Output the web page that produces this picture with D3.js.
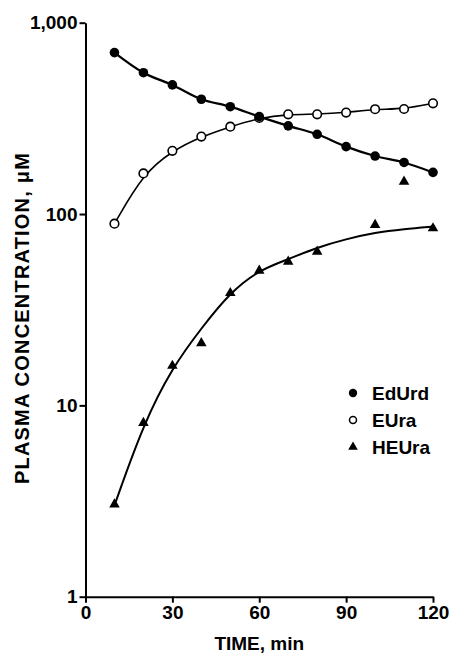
<!DOCTYPE html>
<html>
<head>
<meta charset="utf-8">
<script src="https://cdn.jsdelivr.net/npm/d3@7"></script>
<style>
  body { margin: 0; background: #fff; }
  text { font-family: "Liberation Sans", Arial, sans-serif; font-weight: bold; fill: #000; }
</style>
</head>
<body>
<svg id="chart" width="449" height="656"></svg>
<script>
// sampling times (min)
let times = [10, 20, 30, 40, 50, 60, 70, 80, 90, 100, 110, 120];
// EdUrd, filled circles
let edurd = [698, 548, 473, 398, 364, 323, 289, 261, 225, 201, 186, 165];
// EUra, open circles (60 min point sits under the EdUrd dot)
let eura = [89, 163, 214, 254, 286, 318, 332, 332, 339, 353, 354, 379];
// HEUra, triangles (no 90 min sample)
let heuraT = [10, 20, 30, 40, 50, 60, 70, 80, 100, 110, 120];
let heura = [3, 8, 15.9, 20.9, 38.2, 50, 55.7, 62.8, 86.7, 146, 83.3];
// fitted HEUra curve
let heuraFit = [3, 8, 15.8, 25.3, 39, 51, 58, 67, 74, 80, 83.5, 86];

let xTicks = [0, 30, 60, 90, 120];
let yTicks = [1, 10, 100, 1000];
let legendNames = ["EdUrd", "EUra", "HEUra"];

let svg = d3.select("#chart");

let x = d3.scaleLinear().domain([0, 120]).range([85.5, 433]);
let y = d3.scaleLog().domain([1, 1000]).range([596.7, 22.7]);

// axes
let xAxis = svg.append("g")
    .attr("transform", "translate(0," + y(1) + ")")
    .call(d3.axisBottom(x).tickValues(xTicks).tickSize(6).tickPadding(3).tickSizeOuter(0));
let yAxis = svg.append("g")
    .attr("transform", "translate(" + x(0) + ",0)")
    .call(d3.axisLeft(y).tickValues(yTicks).tickFormat(d3.format(",")).tickSize(6).tickPadding(2).tickSizeOuter(0));

[xAxis, yAxis].forEach(function(g) {
    g.select(".domain").attr("stroke", "#000").attr("stroke-width", 2);
    g.selectAll(".tick line").attr("stroke", "#000").attr("stroke-width", 2);
    g.selectAll(".tick text").attr("font-size", 19).attr("fill", "#000")
        .attr("font-family", "Liberation Sans, Arial, sans-serif").attr("font-weight", "bold");
});

// axis titles
svg.append("text")
    .attr("x", (x(0) + x(120)) / 2)
    .attr("y", 650)
    .attr("text-anchor", "middle")
    .attr("font-size", 19)
    .text("TIME, min");

svg.append("text")
    .attr("transform", "translate(29," + 318 + ") rotate(-90)")
    .attr("text-anchor", "middle")
    .attr("font-size", 20)
    .attr("letter-spacing", 1.2)
    .text("PLASMA  CONCENTRATION,  \u03BCM");

// curves
let line = d3.line()
    .x(function(d) { return x(d[0]); })
    .y(function(d) { return y(d[1]); })
    .curve(d3.curveCatmullRom.alpha(0.5));

function pairs(ts, vs) { return ts.map(function(t, i) { return [t, vs[i]]; }); }

svg.append("path").datum(pairs(times, heuraFit))
    .attr("d", line.curve(d3.curveBasis)).attr("fill", "none").attr("stroke", "#000").attr("stroke-width", 2);
svg.append("path").datum(pairs(times, eura))
    .attr("d", line.curve(d3.curveBasis)).attr("fill", "none").attr("stroke", "#000").attr("stroke-width", 1.6);
svg.append("path").datum(pairs(times, edurd))
    .attr("d", line.curve(d3.curveCatmullRom)).attr("fill", "none").attr("stroke", "#000").attr("stroke-width", 2.2);

// markers
let tri = d3.symbol().type(d3.symbolTriangle);

svg.append("g").selectAll("path")
    .data(pairs(heuraT, heura))
    .enter().append("path")
    .attr("d", tri.size(48)())
    .attr("transform", function(d) { return "translate(" + x(d[0]) + "," + (y(d[1]) - 1) + ")"; })
    .attr("fill", "#000");

svg.append("g").selectAll("circle")
    .data(pairs(times, eura))
    .enter().append("circle")
    .attr("cx", function(d) { return x(d[0]); })
    .attr("cy", function(d) { return y(d[1]); })
    .attr("r", 4.3)
    .attr("fill", "#fff").attr("stroke", "#000").attr("stroke-width", 1.6);

svg.append("g").selectAll("circle")
    .data(pairs(times, edurd))
    .enter().append("circle")
    .attr("cx", function(d) { return x(d[0]); })
    .attr("cy", function(d) { return y(d[1]); })
    .attr("r", 4.8)
    .attr("fill", "#000");

// legend
let legend = svg.append("g").attr("transform", "translate(353,393)");
legendNames.forEach(function(name, i) {
    let g = legend.append("g").attr("transform", "translate(0," + (i * 27) + ")");
    if (i == 0) g.append("circle").attr("r", 4.2).attr("fill", "#000");
    if (i == 1) g.append("circle").attr("r", 3.5).attr("fill", "#fff").attr("stroke", "#000").attr("stroke-width", 1.5);
    if (i == 2) g.append("path").attr("d", tri.size(40)()).attr("fill", "#000");
    g.append("text").attr("x", 19).attr("dy", "0.36em").attr("font-size", 19).text(name);
});
</script>
</body>
</html>
